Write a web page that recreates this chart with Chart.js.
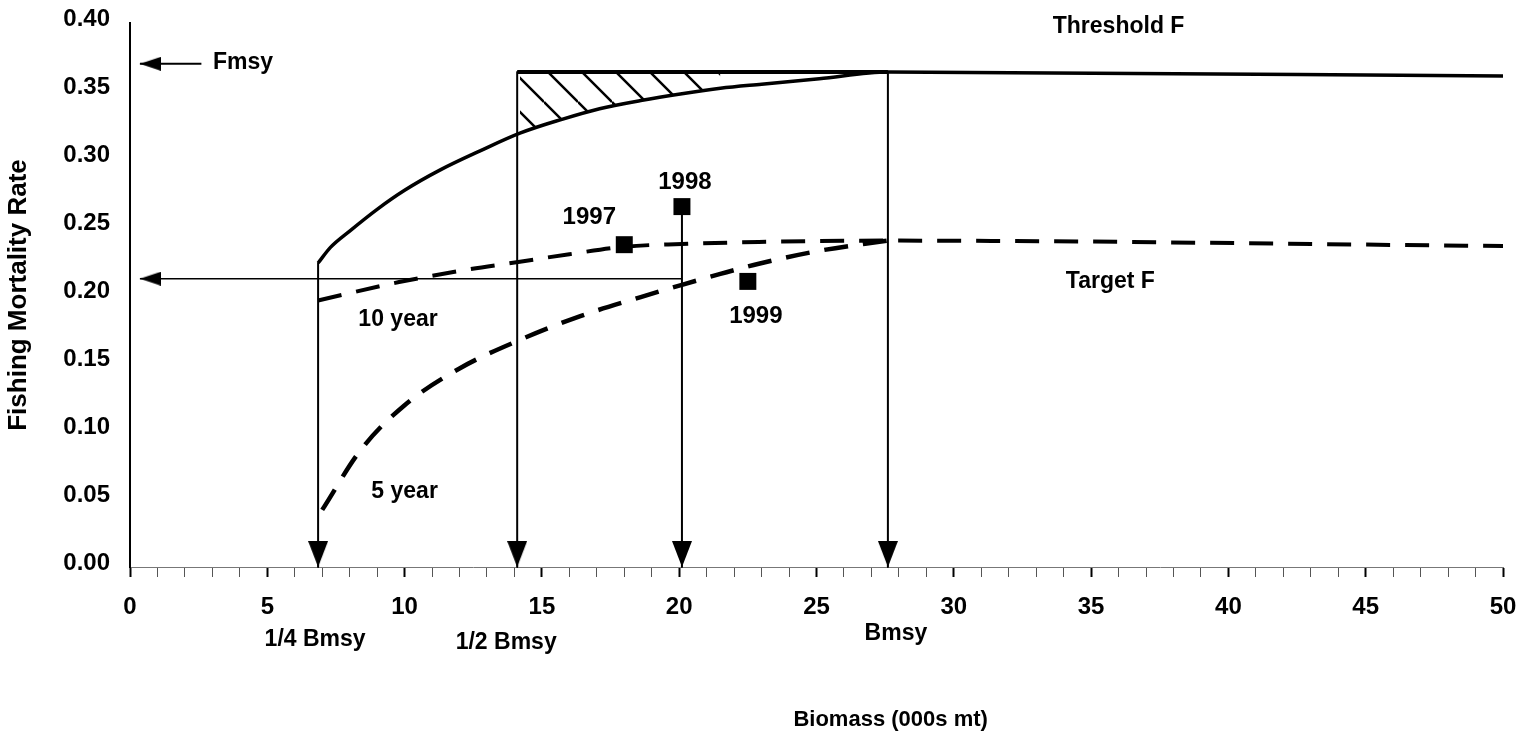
<!DOCTYPE html>
<html>
<head>
<meta charset="utf-8">
<script src="https://cdn.jsdelivr.net/npm/chart.js@4/dist/chart.umd.min.js"></script>
<style>
  html, body { margin: 0; padding: 0; background: #fff; }
  #wrap { position: relative; width: 1524px; height: 739px; }
</style>
</head>
<body>
<div id="wrap"><canvas id="chart"></canvas></div>
<script>
// Threshold F control rule (biomass in 000s mt, fishing mortality rate)
const thresholdB = [6.85, 7.3, 8.0, 9.0, 10.0, 11.3, 12.75, 14.2, 15.7, 17.1, 18.6, 20.1, 21.5, 23.0, 25.1, 27.6, 50];
const thresholdF = [0.2235, 0.235, 0.247, 0.263, 0.277, 0.292, 0.306, 0.319, 0.329, 0.337, 0.343, 0.348, 0.352, 0.355, 0.359, 0.364, 0.361];

// Target F rebuilding paths
const tenYearB = [6.85, 9.8, 12.4, 14.2, 16.0, 18.0, 20.1, 22.9, 27.6, 50];
const tenYearF = [0.196, 0.2095, 0.219, 0.2245, 0.230, 0.2355, 0.2375, 0.239, 0.240, 0.236];
const fiveYearB = [7.0, 8.4, 10.0, 12.0, 14.2, 16.4, 18.6, 20.1, 21.5, 22.9, 25.1, 27.6];
const fiveYearF = [0.042, 0.086, 0.119, 0.146, 0.167, 0.1845, 0.1985, 0.2075, 0.2155, 0.223, 0.2325, 0.240];

// Stock status by year
const years = ['1997', '1998', '1999'];
const yearB = [18.0, 20.1, 22.5];
const yearF = [0.237, 0.265, 0.210];

// Reference biomass levels
const refLabels = ['1/4 Bmsy', '1/2 Bmsy', 'Bmsy'];
const refB = [6.85, 14.1, 27.6];

// Reference fishing mortality levels
const fmsy = 0.37;
const thresholdCapF = 0.364;
const targetArrowF = 0.212;
const hatchEndB = 21.5;

// Axis ranges
const xRange = [0, 50];
const yRange = [0, 0.40];

const FONT = '"Liberation Sans", Arial, sans-serif';
const ink = '#000';

const pts = (xs, ys) => xs.map((x, i) => ({ x, y: ys[i] }));

// Arrowheads whose tip sits at the centre of the canvas (so the tip lands on the data point)
function downArrow(w, h) {
  const c = document.createElement('canvas');
  c.width = w; c.height = h * 2;
  const g = c.getContext('2d');
  g.fillStyle = ink;
  g.beginPath(); g.moveTo(0, 0); g.lineTo(w, 0); g.lineTo(w / 2, h); g.closePath(); g.fill();
  return c;
}
function leftArrow(len, h) {
  const c = document.createElement('canvas');
  c.width = len * 2; c.height = h;
  const g = c.getContext('2d');
  g.fillStyle = ink;
  g.beginPath(); g.moveTo(len, h / 2); g.lineTo(len * 2, 0); g.lineTo(len * 2, h); g.closePath(); g.fill();
  return c;
}
function hatchPattern(size, lw) {
  const c = document.createElement('canvas');
  c.width = size; c.height = size;
  const g = c.getContext('2d');
  g.strokeStyle = ink; g.lineWidth = lw;
  g.beginPath();
  for (let k = -1; k <= 1; k++) { g.moveTo(0, k * size); g.lineTo(size, size + k * size); }
  g.stroke();
  return g.createPattern(c, 'repeat');
}

const arrowDown = downArrow(20, 26);
const arrowLeft = leftArrow(21, 14);

const lineBase = { borderColor: ink, pointRadius: 0, fill: false, borderJoinStyle: 'round' };

function dropLine(x, top) {
  return Object.assign({}, lineBase, {
    data: [{ x, y: top }, { x, y: 0 }],
    borderWidth: 2,
    pointStyle: arrowDown,
    pointRadius: [0, 1],
    pointBorderWidth: 0,
    clip: false
  });
}
function sideArrow(fromX, toX, yv, width) {
  return Object.assign({}, lineBase, {
    data: [{ x: fromX, y: yv }, { x: toX, y: yv }],
    borderWidth: width,
    pointStyle: arrowLeft,
    pointRadius: [0, 1],
    pointBorderWidth: 0,
    clip: false
  });
}

const hatchIdx = thresholdB.map((b, i) => i).filter(i => thresholdB[i] >= refB[1] && thresholdB[i] <= hatchEndB);

const datasets = [
  // yearly estimates
  {
    data: pts(yearB, yearF), showLine: false, pointStyle: 'rect', pointRadius: 12,
    backgroundColor: ink, borderColor: ink, pointBorderWidth: 0
  },
  // threshold curve
  Object.assign({}, lineBase, {
    data: pts(thresholdB, thresholdF), borderWidth: 3.5, cubicInterpolationMode: 'monotone'
  }),
  // flat cap from 1/2 Bmsy to Bmsy
  Object.assign({}, lineBase, {
    data: [{ x: refB[1], y: thresholdCapF }, { x: refB[2], y: thresholdCapF }], borderWidth: 4
  }),
  // 10 year rebuilding path
  Object.assign({}, lineBase, {
    data: pts(tenYearB, tenYearF), borderWidth: 4, borderDash: [24, 15], cubicInterpolationMode: 'monotone'
  }),
  // 5 year rebuilding path
  Object.assign({}, lineBase, {
    data: pts(fiveYearB, fiveYearF), borderWidth: 4.5, borderDash: [24, 15], cubicInterpolationMode: 'monotone'
  }),
  // drop lines to the biomass axis
  dropLine(refB[0], thresholdF[0]),
  dropLine(refB[1], thresholdCapF),
  dropLine(yearB[1], yearF[1]),
  dropLine(refB[2], thresholdCapF),
  // arrows to the F axis
  sideArrow(2.6, 0.36, fmsy, 2),
  sideArrow(yearB[1], 0.36, targetArrowF, 1.5),
  // hatched band between the cap and the curve
  Object.assign({}, lineBase, {
    data: hatchIdx.map(i => ({ x: thresholdB[i], y: thresholdF[i] })),
    borderWidth: 0, cubicInterpolationMode: 'monotone',
    fill: { value: thresholdCapF }, backgroundColor: hatchPattern(34, 2.5)
  })
];

// Text placed in data coordinates
const notes = [
  { text: 'Threshold F', x: 36.0, y: 0.397 },
  { text: 'Target F', x: 35.7, y: 0.2096 },
  { text: '10 year', x: 9.76, y: 0.1816 },
  { text: '5 year', x: 10.0, y: 0.0551 },
  { text: 'Fmsy', x: 3.02, y: 0.3706, align: 'left' }
];
const yearLabelOffset = [[-35, -27], [3, -24], [8, 35]];
const refLabelOffset = [[-3, 73], [-11, 76], [8, 67]];
const xTitle = { text: 'Biomass (000s mt)', x: 27.7, dy: 153 };

const notesPlugin = {
  id: 'notes',
  afterDatasetsDraw(chart) {
    const { ctx, scales: { x, y }, chartArea } = chart;
    ctx.save();
    ctx.fillStyle = ink;
    ctx.textBaseline = 'middle';
    ctx.font = 'bold 23px ' + FONT;
    notes.forEach(n => {
      ctx.textAlign = n.align || 'center';
      ctx.fillText(n.text, x.getPixelForValue(n.x), y.getPixelForValue(n.y));
    });
    ctx.textAlign = 'center';
    ctx.font = 'bold 24px ' + FONT;
    years.forEach((t, i) => {
      const o = yearLabelOffset[i];
      ctx.fillText(t, x.getPixelForValue(yearB[i]) + o[0], y.getPixelForValue(yearF[i]) + o[1]);
    });
    ctx.font = 'bold 23px ' + FONT;
    refLabels.forEach((t, i) => {
      const o = refLabelOffset[i];
      ctx.fillText(t, x.getPixelForValue(refB[i]) + o[0], chartArea.bottom + o[1]);
    });
    ctx.font = 'bold 22px ' + FONT;
    ctx.fillText(xTitle.text, x.getPixelForValue(xTitle.x), chartArea.bottom + xTitle.dy);
    ctx.restore();
  }
};

const tickFont = { family: FONT, size: 24, weight: 'bold' };

new Chart(document.getElementById('chart'), {
  type: 'line',
  data: { datasets },
  plugins: [notesPlugin],
  options: {
    responsive: true,
    maintainAspectRatio: false,
    animation: false,
    events: [],
    layout: { padding: { top: 23, right: 21, bottom: 0, left: 0 } },
    plugins: { legend: { display: false }, tooltip: { enabled: false } },
    scales: {
      x: {
        type: 'linear', min: xRange[0], max: xRange[1],
        afterFit(s) { s.height = 172; s.paddingLeft = 0; s.paddingRight = 0; },
        ticks: {
          stepSize: 1, autoSkip: false, maxRotation: 0, padding: 16,
          font: tickFont, color: ink,
          callback: v => (Math.round(v) % 5 === 0 ? String(Math.round(v)) : '')
        },
        grid: {
          drawOnChartArea: false, drawTicks: true, tickLength: 10,
          tickWidth: c => (c.tick && Math.round(c.tick.value) % 5 === 0 ? 2 : 1),
          tickColor: c => (c.tick && Math.round(c.tick.value) % 5 === 0 ? '#000' : '#555')
        },
        border: { display: true, color: '#777', width: 1, dash: [2, 3] }
      },
      y: {
        min: yRange[0], max: yRange[1],
        afterFit(s) { s.width = 130; s.paddingTop = 0; s.paddingBottom = 0; },
        ticks: {
          stepSize: 0.05, padding: 20, labelOffset: -4,
          font: tickFont, color: ink,
          callback: v => v.toFixed(2)
        },
        grid: { display: false, drawTicks: false },
        border: { display: true, color: ink, width: 2 },
        title: {
          display: true, text: 'Fishing Mortality Rate', color: ink,
          font: { family: FONT, size: 26, weight: 'bold' },
          padding: { top: 3, bottom: 0 }
        }
      }
    }
  }
});
</script>
</body>
</html>
